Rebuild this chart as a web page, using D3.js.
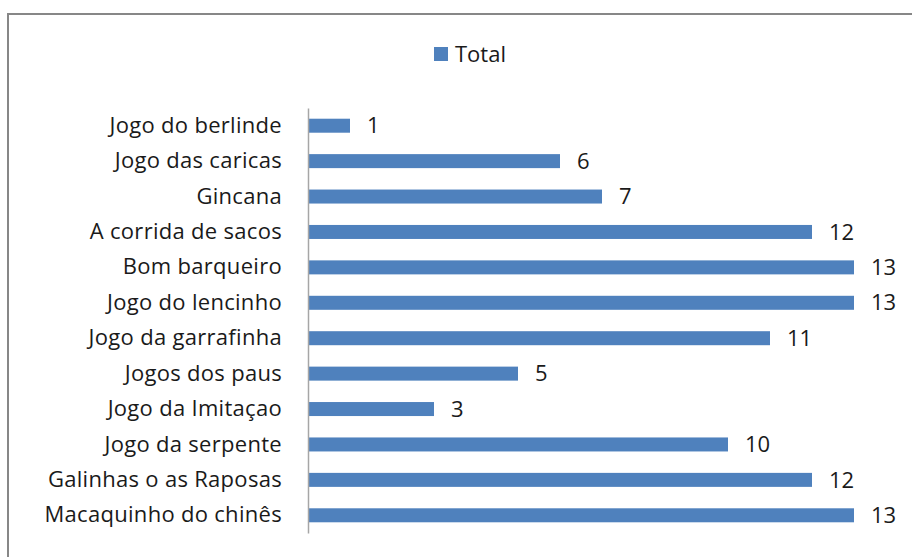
<!DOCTYPE html>
<html>
<head>
<meta charset="utf-8">
<script src="https://cdn.jsdelivr.net/npm/d3@7"></script>
<style>
  body { margin: 0; background: #fff; }
  svg { display: block; font-family: "Open Sans", sans-serif; }
</style>
</head>
<body>
<svg width="912" height="557"></svg>
<script>
const categories = ["Jogo do berlinde", "Jogo das caricas", "Gincana", "A corrida de sacos",
    "Bom barqueiro", "Jogo do lencinho", "Jogo da garrafinha", "Jogos dos paus",
    "Jogo da Imitaçao", "Jogo da serpente", "Galinhas o as Raposas", "Macaquinho do chinês"];
const totals = [1, 6, 7, 12, 13, 13, 11, 5, 3, 10, 12, 13];
const seriesName = "Total";

document.addEventListener('DOMContentLoaded', () => {
    const svg = d3.select("svg");
    const barColor = "#4f81bd";
    const fontSize = 22;

    // outer frame (runs off the right and bottom edge)
    svg.append("rect")
        .attr("x", 8).attr("y", 14)
        .attr("width", 920).attr("height", 560)
        .attr("fill", "none")
        .attr("stroke", "#878787")
        .attr("stroke-width", 2);

    const x0 = 308;
    const xScale = d3.scaleLinear().domain([0, 13]).range([x0, 854]);
    const yScale = d3.scaleBand().domain(categories).range([108, 533]).paddingInner(0.6).paddingOuter(0.3);

    const data = categories.map((c, i) => ({ name: c, value: totals[i] }));

    const g = svg.append("g");

    g.selectAll(".bar")
        .data(data)
        .enter().append("rect")
        .attr("class", "bar")
        .attr("x", x0)
        .attr("y", d => yScale(d.name) + yScale.bandwidth() / 2 - 7)
        .attr("width", d => xScale(d.value) - x0)
        .attr("height", 14)
        .attr("fill", barColor);

    // category axis
    const axis = g.append("g")
        .attr("transform", "translate(" + x0 + ",0)")
        .call(d3.axisLeft(yScale).tickSize(0).tickPadding(26));
    axis.select(".domain").attr("stroke", "#a6a6a6").attr("stroke-width", 1.5);
    axis.selectAll("text")
        .attr("font-size", fontSize)
        .attr("font-family", "'Open Sans', sans-serif")
        .attr("letter-spacing", 0.3)
        .attr("fill", "#1a1a1a");

    // value labels
    g.selectAll(".val")
        .data(data)
        .enter().append("text")
        .attr("class", "val")
        .attr("x", d => xScale(d.value) + 17)
        .attr("y", d => yScale(d.name) + yScale.bandwidth() / 2)
        .attr("dy", "0.35em")
        .attr("font-size", fontSize)
        .attr("fill", "#1a1a1a")
        .text(d => d.value);

    // legend
    const legend = svg.append("g");
    legend.append("rect")
        .attr("x", 434).attr("y", 47)
        .attr("width", 14).attr("height", 14)
        .attr("fill", barColor);
    legend.append("text")
        .attr("x", 455).attr("y", 54)
        .attr("dy", "0.35em")
        .attr("font-size", fontSize)
        .attr("fill", "#1a1a1a")
        .text(seriesName);
});
</script>
</body>
</html>
